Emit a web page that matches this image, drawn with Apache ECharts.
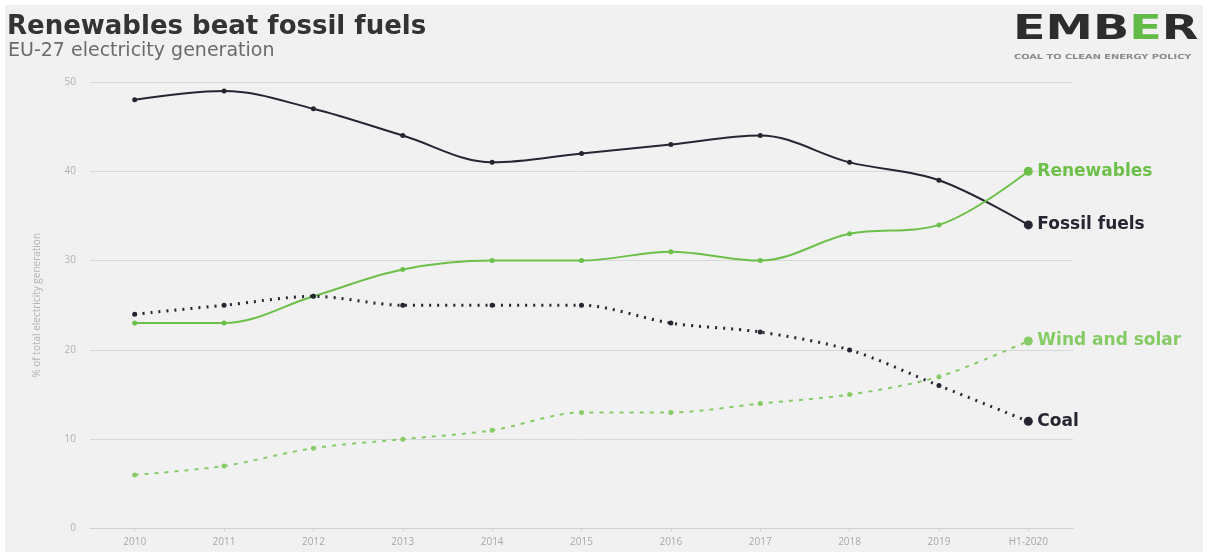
<!DOCTYPE html>
<html>
<head>
<meta charset="utf-8">
<script src="https://cdn.jsdelivr.net/npm/echarts@6/dist/echarts.min.js"></script>
<style>
html,body{margin:0;padding:0;background:#ffffff;}
#c{width:1208px;height:557px;}
</style>
</head>
<body>
<div id="c"></div>
<script>
const categories = ['2010','2011','2012','2013','2014','2015','2016','2017','2018','2019','H1-2020'];
const fossilFuels = [48, 49, 47, 44, 41, 42, 43, 44, 41, 39, 34];
const renewables = [23, 23, 26, 29, 30, 30, 31, 30, 33, 34, 40];
const coal = [24, 25, 26, 25, 25, 25, 23, 22, 20, 16, 12];
const windSolar = [6, 7, 9, 10, 11, 13, 13, 14, 15, 17, 21];
const yTicks = [0, 10, 20, 30, 40, 50];

const FONT = '"Open Sans", "Noto Sans", sans-serif';
const WIDE = '"DejaVu Sans", sans-serif';
const DARK = '#262633';
const GREEN = '#6cc04a';
const LGREEN = '#86cc66';

const chart = echarts.init(document.getElementById('c'), null, {renderer: 'canvas'});

function lastBig(arr) {
  return arr.map((v, i) => i === arr.length - 1 ? {value: v, symbolSize: 9} : v);
}

function mkSeries(name, data, color, type, width, smooth) {
  return {
    name: name,
    type: 'line',
    data: lastBig(data),
    smooth: smooth,
    symbol: 'circle',
    symbolSize: 5,
    showSymbol: true,
    itemStyle: {color: color},
    lineStyle: {color: color, width: width, type: type},
    endLabel: {
      show: true,
      formatter: name,
      color: color,
      fontFamily: WIDE,
      fontWeight: 'bold',
      fontSize: 17,
      distance: 9
    },
    emphasis: {disabled: true},
    z: 3
  };
}

const option = {
  animation: false,
  backgroundColor: '#ffffff',
  graphic: [
    {type: 'rect', shape: {x: 5, y: 5, width: 1198, height: 547}, style: {fill: '#f1f1f1'}, z: -10, silent: true},
    {type: 'text', left: 7, top: 14, style: {text: 'Renewables beat fossil fuels', fill: '#333333', font: 'bold 26px ' + WIDE}},
    {type: 'text', left: 8, top: 42, style: {text: 'EU-27 electricity generation', fill: '#6b6b6b', font: '19px ' + WIDE}},
    {type: 'text', x: 1013, y: 13, scaleX: 1.4, scaleY: 1, style: {
      x: 0, y: 0, verticalAlign: 'top', align: 'left',
      rich: {
        a: {fill: '#2d2d2d', font: 'bold 34px "DejaVu Sans", sans-serif'},
        g: {fill: '#62bb46', font: 'bold 34px "DejaVu Sans", sans-serif'}
      },
      text: '{a|EMB}{g|E}{a|R}'
    }},
    {type: 'text', x: 1014, y: 54, scaleX: 1.4, scaleY: 1, style: {
      x: 0, y: 0, verticalAlign: 'top', align: 'left',
      text: 'COAL TO CLEAN ENERGY POLICY', fill: '#8a8a8a', font: 'bold 7px "DejaVu Sans", sans-serif'
    }}
  ],
  grid: {left: 90, right: 135, top: 82, bottom: 28.5, containLabel: false},
  xAxis: {
    type: 'category',
    data: categories,
    boundaryGap: true,
    axisLine: {show: true, lineStyle: {color: '#d0d0d0', width: 1}},
    axisTick: {show: true, alignWithLabel: true, length: 3, lineStyle: {color: '#d0d0d0'}},
    axisLabel: {color: '#a8a8a8', fontSize: 10, fontFamily: FONT, margin: 9}
  },
  yAxis: {
    type: 'value',
    min: yTicks[0],
    max: yTicks[yTicks.length - 1],
    interval: 10,
    name: '% of total electricity generation',
    nameLocation: 'middle',
    nameGap: 48,
    nameTextStyle: {color: '#b4b4b4', fontSize: 10, fontFamily: FONT},
    axisLine: {show: false},
    axisTick: {show: false},
    axisLabel: {color: '#b0b0b0', fontSize: 10, fontFamily: FONT, margin: 14},
    splitLine: {show: true, lineStyle: {color: '#d8d8d8', width: 1}}
  },
  series: [
    mkSeries('Fossil fuels', fossilFuels, DARK, 'solid', 2, 0.35),
    mkSeries('Renewables', renewables, GREEN, 'solid', 2, 0.35),
    mkSeries('Coal', coal, DARK, [2, 6], 3, 0.3),
    mkSeries('Wind and solar', windSolar, LGREEN, [4, 6], 2, 0.3)
  ]
};
chart.setOption(option);
</script>
</body>
</html>
